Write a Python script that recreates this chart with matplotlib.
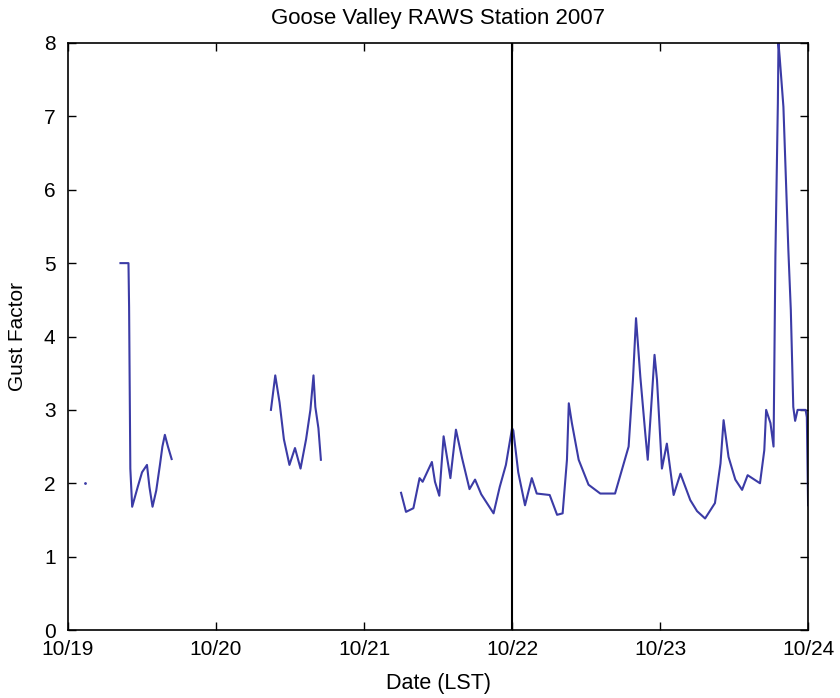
import matplotlib

matplotlib.use("Agg")
import matplotlib.pyplot as plt
import numpy as np

# hours since 10/19 00:00 LST, gust factor; gaps split into segments
seg1_hours = [8.5, 9.8, 9.9, 10.0, 10.1, 10.4, 11.3, 12.0, 12.8, 13.2, 13.7,
              14.3, 14.9, 15.3, 15.7, 16.2, 16.8]
seg1_gust = [5.0, 5.0, 4.4, 3.3, 2.2, 1.68, 1.95, 2.15, 2.25, 1.95, 1.68,
             1.9, 2.25, 2.5, 2.66, 2.5, 2.33]

seg2_hours = [32.9, 33.6, 34.3, 35.0, 35.9, 36.8, 37.7, 38.6, 39.3, 39.8, 40.1,
              40.6, 41.0]
seg2_gust = [3.0, 3.47, 3.1, 2.6, 2.25, 2.48, 2.2, 2.6, 3.0, 3.47, 3.04,
             2.75, 2.32]

seg3_hours = [54.0, 54.8, 56.0, 57.0, 57.5, 59.0, 59.5, 60.2, 60.9, 62.0, 62.9,
              63.9, 65.1, 66.0, 67.0, 68.0, 69.0, 70.0, 71.0, 72.0, 72.2, 73.0,
              74.1, 75.2, 76.0, 78.1, 79.3, 80.2, 80.9, 81.2, 81.7, 82.8, 84.4,
              86.3, 88.7, 90.9, 91.6, 92.1, 92.8, 93.6, 94.0, 94.7, 95.1, 95.5,
              96.3, 97.1, 98.2, 99.3, 100.9, 102.0, 103.3, 104.9, 105.8, 106.3,
              107.1, 108.2, 109.3, 110.2, 112.2, 112.9, 113.2, 113.9, 114.4,
              114.7, 115.1, 115.2, 115.4, 116.0, 116.8, 117.2, 117.6, 117.9,
              118.3, 119.6, 119.8, 120.0]
seg3_gust = [1.87, 1.61, 1.66, 2.07, 2.02, 2.29, 2.02, 1.83, 2.64, 2.07, 2.73,
             2.34, 1.92, 2.05, 1.85, 1.72, 1.59, 1.95, 2.25, 2.75, 2.72, 2.15,
             1.70, 2.07, 1.86, 1.84, 1.57, 1.59, 2.32, 3.09, 2.82, 2.32, 1.98,
             1.86, 1.86, 2.50, 3.41, 4.25, 3.45, 2.68, 2.32, 3.22, 3.75, 3.41,
             2.20, 2.54, 1.84, 2.13, 1.77, 1.62, 1.52, 1.73, 2.27, 2.86, 2.36,
             2.05, 1.91, 2.11, 2.00, 2.45, 3.00, 2.82, 2.50, 5.09, 7.18, 8.0,
             7.8, 7.13, 5.18, 4.36, 3.04, 2.85, 3.0, 3.0, 2.9, 1.7]

lone_hour = [2.8]
lone_gust = [2.0]

day_ticks = [0, 1, 2, 3, 4, 5]
day_labels = ["10/19", "10/20", "10/21", "10/22", "10/23", "10/24"]
marker_day = 3

plt.rcParams["font.family"] = ["Liberation Sans", "DejaVu Sans"]
line_color = "#3b3ba6"

fig = plt.figure(figsize=(8.4, 6.98), dpi=100)
ax = fig.add_axes([0.081, 0.0974, 0.881, 0.841])

for hrs, g in ((seg1_hours, seg1_gust), (seg2_hours, seg2_gust), (seg3_hours, seg3_gust)):
    ax.plot(np.array(hrs) / 24.0, g, color=line_color, lw=1.5)
ax.plot(np.array(lone_hour) / 24.0, lone_gust, ".", color=line_color, ms=2)

ax.axvline(marker_day, color="black", lw=1.5)

ax.set_xlim(0, 5)
ax.set_ylim(0, 8)
ax.set_xticks(day_ticks)
ax.set_xticklabels(day_labels)
ax.set_yticks(range(0, 9))
ax.tick_params(direction="in", top=True, right=True, length=6, labelsize=15, width=1)
ax.tick_params(axis="y", pad=9)
ax.tick_params(axis="x", pad=7)
for sp in ax.spines.values():
    sp.set_linewidth(1.2)

ax.set_title("Goose Valley RAWS Station 2007", fontsize=16, pad=14)
ax.set_xlabel("Date (LST)", fontsize=15.5, labelpad=10)
ax.set_ylabel("Gust Factor", fontsize=15, labelpad=12)

fig.savefig("out.png", dpi=100)
plt.close(fig)
